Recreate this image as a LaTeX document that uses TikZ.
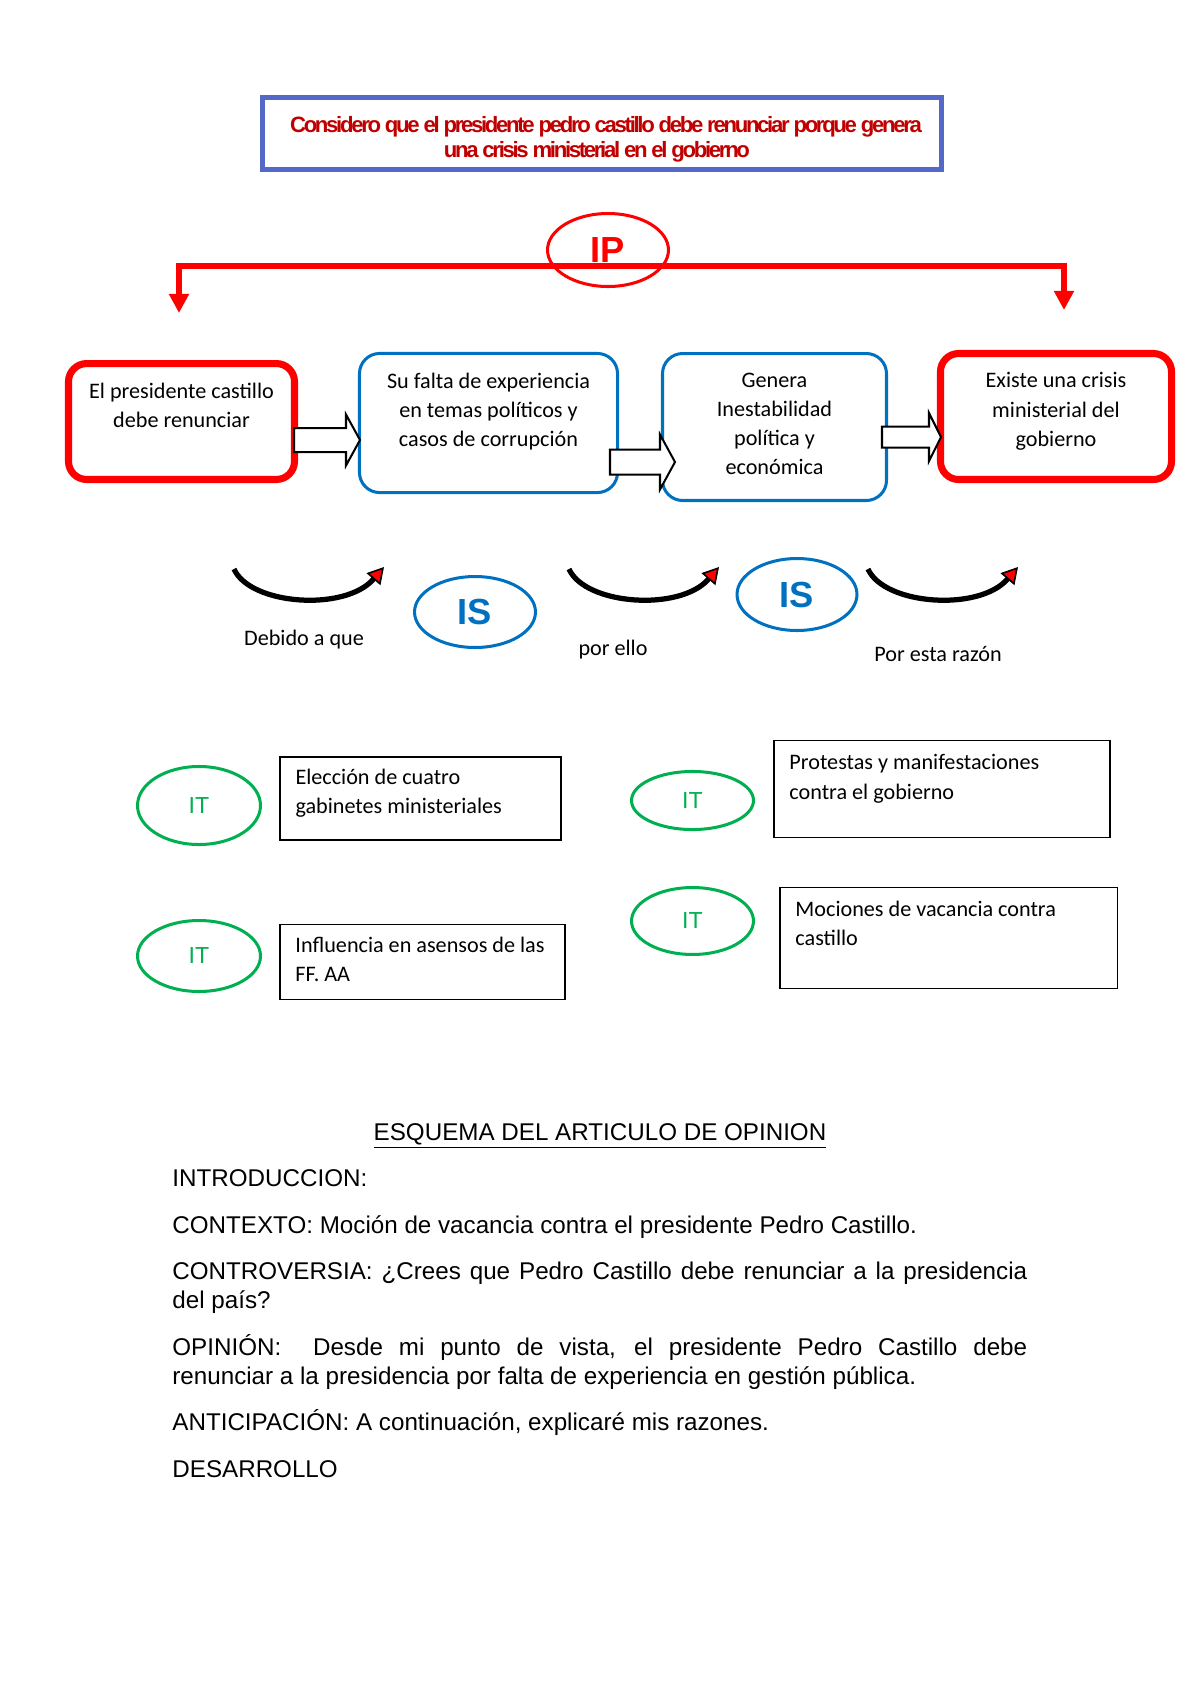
\documentclass[tikz,border=0pt]{standalone}
\usepackage{fontspec}
\setmainfont{Liberation Sans}
\newfontfamily\calibri{Carlito}
\newfontfamily\lemafont[LetterSpace=-10.5]{Liberation Sans}
\usetikzlibrary{positioning,shapes.geometric,arrows.meta}
\definecolor{rojoLema}{RGB}{192,0,0}
\definecolor{azulMarco}{RGB}{84,104,200}
\definecolor{azulCaja}{RGB}{0,112,192}
\definecolor{verdeIT}{RGB}{0,176,80}
\tikzset{
	cajaRoja/.style={draw=red, line width=3.5pt, rounded corners=9pt, outer sep=0pt, inner sep=0pt},
	cajaAzul/.style={draw=azulCaja, line width=1.5pt, rounded corners=10pt, outer sep=0pt, inner sep=0pt},
	cajaNegra/.style={draw=black, line width=0.75pt, outer sep=0pt, inner sep=0pt},
	textoCaja/.style={font=\calibri\fontsize{11}{14.5}\selectfont, align=center, inner sep=0pt},
	textoIdea/.style={font=\calibri\fontsize{11}{14.5}\selectfont, align=left, inner sep=0pt},
	elipseIP/.style={ellipse, draw=red, line width=1.5pt, text=red, font=\bfseries\fontsize{18}{18}\selectfont, inner sep=0pt},
	elipseIS/.style={ellipse, draw=azulCaja, line width=1.5pt, text=azulCaja, font=\bfseries\fontsize{18}{18}\selectfont, inner sep=0pt},
	elipseIT/.style={ellipse, draw=verdeIT, line width=1.5pt, text=verdeIT, font=\fontsize{11.5}{11.5}\selectfont, inner sep=0pt},
	corchete/.style={draw=red, line width=3pt, -{Triangle[length=9.5pt,width=9.5pt]}},
	flechaBloque/.style={draw=black, fill=white, line width=1pt},
	curvaFlecha/.style={draw=black, line width=2.6pt, -{Triangle[length=8pt,width=9pt,fill=red,line width=0.8pt]}},
	conector/.style={font=\calibri\fontsize{11}{13}\selectfont, inner sep=0pt, anchor=base}}

\begin{document}
\begin{tikzpicture}[x=0.496pt,y=0.496pt,yscale=-1,xscale=1]
	\useasboundingbox (0,0) rectangle (1200,1698);

	%Shape: Rectangle [lema]
	\node[draw=azulMarco, line width=2.5pt, minimum width=336.8pt, minimum height=35.7pt, inner sep=0pt] (marco) at (602,133.5) {};
	% Text Node
	\node[font=\lemafont\bfseries\fontsize{11}{12.4}\selectfont, text=rojoLema, align=center, inner sep=0pt, anchor=north] (lema) at (606,116) {Considero que el presidente pedro castillo debe renunciar porque genera\\una crisis ministerial en el gobierno\hspace*{9pt}};

	%Shape: Ellipse [IP]
	\node[elipseIP, minimum width=60pt, minimum height=36.2pt] (ip) at (608,250) {\raisebox{-2.5pt}{IP}};
	%Straight Lines [corchete]
	\coordinate (puntaIzq) at (179,313);
	\coordinate (puntaDer) at (1064,310);
	\draw[corchete] (ip.center) ++(0,16) -| (puntaIzq);
	\draw[corchete] (ip.center) ++(0,16) -| (puntaDer);

	%Rounded Rect [cajas]
	\node[cajaRoja, minimum width=112.1pt, minimum height=57.5pt] (caja1) at (181.5,421.5) {};
	\node[cajaAzul, minimum width=128pt, minimum height=69pt] (caja2) at (488.5,423) {};
	\node[cajaAzul, minimum width=111.1pt, minimum height=72.9pt] (caja3) at (774.5,427) {};
	\node[cajaRoja, minimum width=114.6pt, minimum height=62.5pt] (caja4) at (1056,416.5) {};
	% Text Node
	\node[textoCaja, below=9.3pt of caja1.north] (texto1) {El presidente castillo\\debe renunciar};
	\node[textoCaja, below=9.3pt of caja2.north] (texto2) {Su falta de experiencia\\en temas políticos y\\casos de corrupción};
	\node[textoCaja, below=9.3pt of caja3.north] (texto3) {Genera\\Inestabilidad\\política y\\económica};
	\node[textoCaja, below=9.3pt of caja4.north] (texto4) {Existe una crisis\\ministerial del\\gobierno};

	%Right Arrow [flechas de bloque]
	\foreach \xa/\xb/\xc/\yc/\s/\h in {294/346/360/440/12/25.5, 610/660/675/462/12.5/27.5, 882/929/941/437/10.5/24}
		\draw[flechaBloque] (\xa,\yc-\s) -- (\xb,\yc-\s) -- (\xb,\yc-\h) -- (\xc,\yc) -- (\xb,\yc+\h) -- (\xb,\yc+\s) -- (\xa,\yc+\s) -- cycle;

	%Curve Lines [flechas curvas]
	\foreach \xi/\n in {233/1, 568/2, 867/3} {
		\coordinate (curvaIni\n) at (\xi+1,569);
		\coordinate (curvaFin\n) at (\xi+151,567);
		\draw[curvaFlecha] (curvaIni\n) .. controls +(16,36) and +(-39,45) .. (curvaFin\n);
	}
	% Text Node
	\node[conector] (debido) at (304,645) {Debido a que};
	\node[conector] (porello) at (613,655) {por ello};
	\node[conector] (razon) at (938,661) {Por esta razón};

	%Shape: Ellipse [IS]
	\node[elipseIS, minimum width=60pt, minimum height=35.2pt] (is1) at (475,612) {IS};
	\node[elipseIS, minimum width=59.5pt, minimum height=35.7pt] (is2) at (797,594.5) {IS};

	%Shape: Ellipse [IT]
	\node[elipseIT, minimum width=61pt, minimum height=38.7pt] (it1) at (199,805.5) {IT};
	\node[elipseIT, minimum width=61pt, minimum height=35.2pt] (it2) at (199,956) {IT};
	\node[elipseIT, minimum width=60.5pt, minimum height=28.8pt] (it3) at (692.5,800.5) {IT};
	\node[elipseIT, minimum width=60.5pt, minimum height=33.2pt] (it4) at (692.5,921) {IT};

	%Shape: Rectangle [ideas]
	\node[cajaNegra, minimum width=139.6pt, minimum height=41.4pt] (idea1) at (420.5,798.5) {};
	\node[cajaNegra, minimum width=141.6pt, minimum height=37pt] (idea2) at (422.5,962) {};
	\node[cajaNegra, minimum width=166.9pt, minimum height=47.9pt] (idea3) at (942,789) {};
	\node[cajaNegra, minimum width=167.4pt, minimum height=49.9pt] (idea4) at (948.5,938) {};
	% Text Node
	\node[textoIdea, below right=5.8pt and 7.6pt of idea1.north west] (txt1) {Elección de cuatro\\gabinetes ministeriales};
	\node[textoIdea, below right=5.8pt and 7.6pt of idea2.north west] (txt2) {Influencia en asensos de las\\FF. AA};
	\node[textoIdea, below right=6.7pt and 7.6pt of idea3.north west] (txt3) {Protestas y manifestaciones\\contra el gobierno};
	\node[textoIdea, below right=6.2pt and 7.6pt of idea4.north west] (txt4) {Mociones de vacancia contra\\castillo};

	% Text Node
	\node[font=\fontsize{12}{14}\selectfont, anchor=base, inner sep=0pt] (esquema) at (600,1140) {\underline{ESQUEMA DEL ARTICULO DE OPINION}};
	% Text Node
	\node[anchor=north west, inner sep=0pt, text width=424pt, align=justify, font=\fontsize{12}{14.5}\selectfont] (cuerpo) at (172,1169.5) {%
		\setlength{\parskip}{8.5pt}\setlength{\parindent}{0pt}\hyphenpenalty=10000
		INTRODUCCION:\par
		CONTEXTO: Moción de vacancia contra el presidente Pedro Castillo.\par
		CONTROVERSIA: ¿Crees que Pedro Castillo debe renunciar a la presidencia\linebreak del país?\par
		OPINIÓN: \ Desde mi punto de vista, el presidente Pedro Castillo debe\linebreak renunciar a la presidencia por falta de experiencia en gestión pública.\par
		ANTICIPACIÓN: A continuación, explicaré mis razones.\par
		DESARROLLO};

\end{tikzpicture}
\end{document}
